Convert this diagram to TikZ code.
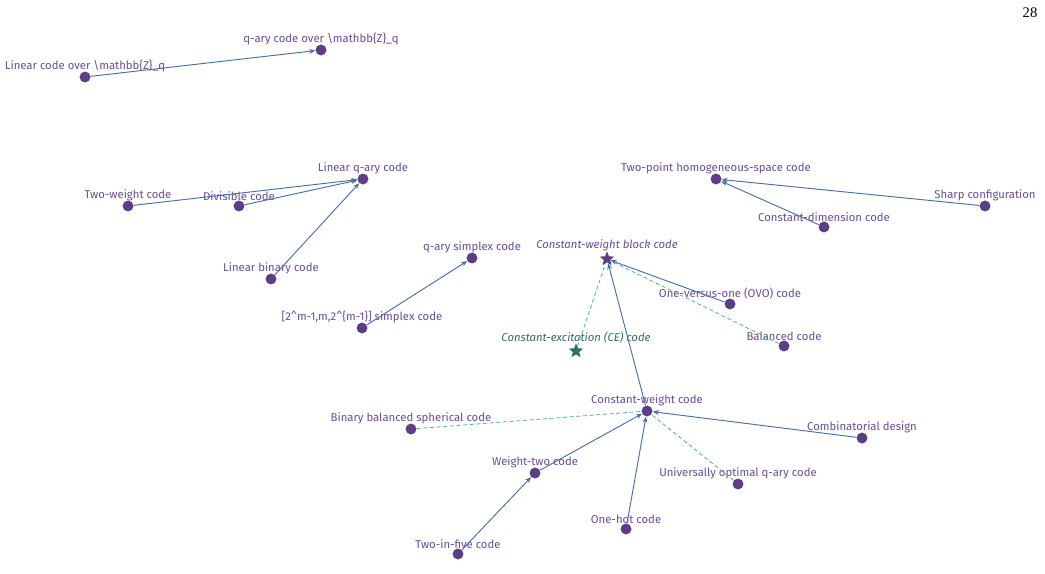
\documentclass[tikz,border=0pt]{standalone}
\usepackage{fontspec}
\setmainfont{Fira Sans}
\newfontfamily\pagefont{Liberation Serif}
\usetikzlibrary{arrows.meta,shapes.geometric}
\definecolor{txtpurple}{HTML}{6A4C93}
\definecolor{dotpurple}{HTML}{5B3E86}
\definecolor{edgeblue}{HTML}{4A6DA7}
\definecolor{dashgreen}{HTML}{4DB87E}
\definecolor{cetal}{HTML}{2F6E6B}
\begin{document}
\begin{tikzpicture}[x=0.75pt, y=-0.75pt,
		every label/.style={text=txtpurple, font=\fontsize{8.5}{9.5}\selectfont, inner sep=1pt},
		label distance=-1.6pt,
		dot/.style={circle, fill=dotpurple, inner sep=0pt, minimum size=8.2pt},
		starnode/.style={star, star points=5, star point ratio=2.3, fill=dotpurple, inner sep=0pt, minimum size=11.5pt},
		isa/.style={edgeblue, line width=0.7pt, -{Stealth[length=4.5pt, width=3.6pt]}},
		rel/.style={dashgreen, line width=0.6pt, dash pattern=on 3pt off 2pt}]
		\useasboundingbox (0,0) rectangle (1045,574);

		\node[font=\pagefont\fontsize{11}{12}\selectfont] (page) at (1030,13) {28};

		% Z_q codes
		\node[dot, label=above:{Linear code over \textbackslash mathbb\{Z\}\_q}] (linzq) at (85,77) {};
		\node[dot, label=above:{q-ary code over \textbackslash mathbb\{Z\}\_q}] (qaryzq) at (321,50) {};
		\draw[isa] (linzq) -- (qaryzq);

		% linear codes
		\node[dot, label=above:{Linear q-ary code}] (linqary) at (363,179) {};
		\node[dot, label=above:{Two-weight code}] (twoweight) at (128,206) {};
		\node[dot, label=above:{Divisible code}] (divisible) at (239,206) {};
		\node[dot, label=above:{Linear binary code}] (linbinary) at (271,279) {};
		\draw[isa] (twoweight) -- (linqary);
		\draw[isa] (divisible) -- (linqary);
		\draw[isa] (linbinary) -- (linqary);

		\node[dot, label=above:{q-ary simplex code}] (qsimplex) at (472,258) {};
		\node[dot, label=above:{[2\textasciicircum m-1,m,2\textasciicircum\{m-1\}] simplex code}] (simplex) at (362,328) {};
		\draw[isa] (simplex) -- (qsimplex);

		% homogeneous spaces
		\node[dot, label=above:{Two-point homogeneous-space code}] (twopoint) at (716,179) {};
		\node[dot, label=above:{Sharp configuration}] (sharp) at (985,206) {};
		\node[dot, label=above:{Constant-dimension code}] (constdim) at (824,227) {};
		\draw[isa] (sharp) -- (twopoint);
		\draw[isa] (constdim) -- (twopoint);

		% constant-weight block
		\node[starnode, label={[font=\itshape\fontsize{8.5}{9.5}\selectfont]above:{Constant-weight block code}}] (cwblock) at (607,259) {};
		\node[dot, label=above:{One-versus-one (OVO) code}] (ovo) at (730,304) {};
		\node[starnode, fill=cetal, label={[text=cetal, font=\itshape\fontsize{8.5}{9.5}\selectfont]above:{Constant-excitation (CE) code}}] (ce) at (576,351) {};
		\node[dot, label=above:{Balanced code}] (balanced) at (784,346) {};
		\draw[isa] (ovo) -- (cwblock);
		\draw[rel] (balanced) -- (cwblock);
		\draw[rel] (ce) -- (cwblock);

		% constant-weight
		\node[dot, label=above:{Constant-weight code}] (cw) at (647,411) {};
		\node[dot, label=above:{Binary balanced spherical code}] (bbsc) at (411,429) {};
		\node[dot, label=above:{Combinatorial design}] (design) at (862,438) {};
		\node[dot, label=above:{Weight-two code}] (weighttwo) at (535,473) {};
		\node[dot, label=above:{Universally optimal q-ary code}] (uoqary) at (738,484) {};
		\node[dot, label=above:{One-hot code}] (onehot) at (626,529) {};
		\node[dot, label=above:{Two-in-five code}] (twoinfive) at (458,554) {};
		\draw[isa] (cw) -- (cwblock);
		\draw[rel] (bbsc) -- (cw);
		\draw[rel] (uoqary) -- (cw);
		\draw[isa] (design) -- (cw);
		\draw[isa] (weighttwo) -- (cw);
		\draw[isa] (onehot) -- (cw);
		\draw[isa] (twoinfive) -- (weighttwo);
	\end{tikzpicture}
\end{document}
